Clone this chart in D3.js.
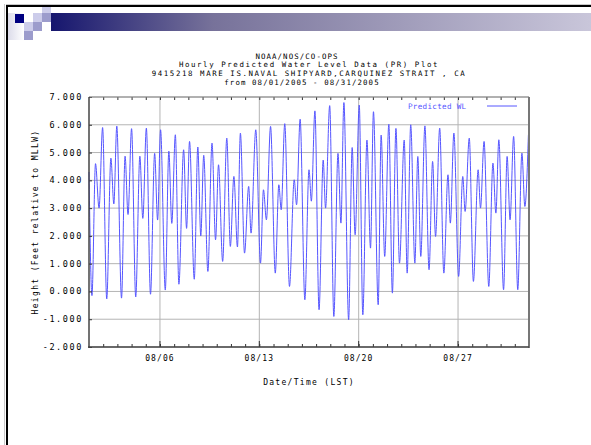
<!DOCTYPE html>
<html lang="en">
<head>
<meta charset="UTF-8">
<script src="https://d3js.org/d3.v7.min.js"></script>
<title>Hourly Predicted Water Level</title>
<style>
  body { margin: 0; background: #fff; }
  svg text { font-family: "DejaVu Sans Mono", monospace; fill: #000; }
</style>
</head>
<body>
<div id="chart"></div>
<script>
// ---- data ----
const titleLines = [
    "NOAA/NOS/CO-OPS",
    "Hourly Predicted Water Level Data (PR) Plot",
    "9415218 MARE IS.NAVAL SHIPYARD,CARQUINEZ STRAIT , CA",
    "from 08/01/2005 - 08/31/2005"
];
const yTicks = [-2, -1, 0, 1, 2, 3, 4, 5, 6, 7];
const xTickDays = [5, 12, 19, 26];             // days after 08/01 00:00
const xTickLabels = ["08/06", "08/13", "08/20", "08/27"];
const seriesName = "Predicted WL";

// hours after 08/01 00:00 LST (turning points of the hourly series)
const hours = [
    0, 5, 11, 17, 23, 30, 37, 42, 47, 55, 61, 66, 72, 79, 86, 91, 97, 104, 111, 116,
    121, 129, 135, 140, 146, 152, 160, 165, 170, 178, 184, 189, 194, 201, 208, 214, 219, 226, 233, 239,
    245, 251, 256, 263, 270, 274, 282, 290, 295, 300, 307, 315, 321, 325, 331, 339, 347, 351, 357, 365,
    372, 376, 382, 389, 396, 400, 407, 414, 421, 426, 431, 439, 445, 450, 457, 463, 470, 476, 481, 489,
    494, 500, 507, 513, 519, 525, 533, 538, 544, 551, 556, 561, 568, 575, 581, 586, 593, 600, 607, 611,
    617, 625, 632, 636, 643, 650, 658, 662, 668, 676, 683, 688, 693, 701, 707, 712, 718, 725, 732, 737,
    743
];
// feet relative to MLLW
const heights = [
    4.3, -0.15, 4.6, 3.0, 5.9, -0.27, 4.8, 3.15, 5.95, -0.24, 4.87, 2.77, 5.86, -0.2, 4.87, 2.63, 5.88, -0.1, 4.97, 2.57,
    5.82, 0.05, 5.05, 2.45, 5.64, 0.26, 5.1, 2.27, 5.4, 0.44, 5.2, 2.0, 4.9, 0.72, 5.34, 1.86, 4.56, 1.08, 5.52, 1.62,
    4.14, 1.6, 5.7, 1.38, 3.78, 2.1, 5.82, 1.02, 3.66, 2.58, 5.94, 0.66, 3.84, 2.94, 6.04, 0.18, 4.02, 3.12, 6.2, -0.3,
    4.38, 3.25, 6.5, -0.66, 4.73, 3.0, 6.69, -0.9, 4.97, 2.46, 6.8, -1.02, 5.18, 2.04, 6.71, -0.84, 5.45, 1.56, 6.47, -0.48,
    5.63, 1.26, 6.02, -0.06, 5.87, 1.02, 5.45, 0.66, 6.0, 1.02, 4.86, 1.26, 5.96, 0.78, 4.68, 1.98, 5.88, 0.66, 4.2, 2.46,
    5.7, 0.54, 4.14, 2.88, 5.52, 0.36, 4.38, 3.0, 5.4, 0.18, 4.62, 2.82, 5.46, 0.06, 4.86, 2.58, 5.58, 0.06, 4.98, 3.06,
    5.64
];

// ---- layout ----
const width = 591, height = 445;
const plot = { left: 89, right: 529, top: 97, bottom: 347 };
const blue = "#5656ff";

const svg = d3.select("#chart").append("svg")
    .attr("width", width)
    .attr("height", height);

// slide background + frame
svg.append("rect").attr("width", width).attr("height", height).attr("fill", "#fff");
svg.append("line").attr("x1", 6).attr("x2", width).attr("y1", 4.5).attr("y2", 4.5)
    .attr("stroke", "#c8c8c8").attr("stroke-width", 1);
svg.append("line").attr("x1", 4.5).attr("x2", 4.5).attr("y1", 4).attr("y2", height)
    .attr("stroke", "#c8c8c8").attr("stroke-width", 1);
svg.append("line").attr("x1", 6).attr("x2", width).attr("y1", 6).attr("y2", 6)
    .attr("stroke", "#000").attr("stroke-width", 2);
svg.append("line").attr("x1", 7).attr("x2", 7).attr("y1", 5).attr("y2", height)
    .attr("stroke", "#000").attr("stroke-width", 2);

// title bar gradient
const defs = svg.append("defs");
const grad = defs.append("linearGradient").attr("id", "bar");
grad.append("stop").attr("offset", "0%").attr("stop-color", "#16166e");
grad.append("stop").attr("offset", "30%").attr("stop-color", "#77729a");
grad.append("stop").attr("offset", "100%").attr("stop-color", "#c9c6da");
svg.append("rect").attr("x", 51).attr("y", 13).attr("width", width - 51).attr("height", 18)
    .attr("fill", "url(#bar)");

const fade = defs.append("linearGradient").attr("id", "fade");
fade.append("stop").attr("offset", "0%").attr("stop-color", "#dcdcea");
fade.append("stop").attr("offset", "100%").attr("stop-color", "#fff");
svg.append("rect").attr("x", 8).attr("y", 13).attr("width", 16).attr("height", 27).attr("fill", "url(#fade)");

// small squares
const squares = [
    [15, 14, "#000080"], [33, 13, "#ccccea"], [42, 7, "#ccccea"], [42, 13, "#9c9ccc"],
    [24, 22, "#ccccea"], [33, 22, "#9c9ccc"], [24, 31, "#9c9ccc"]
];
svg.selectAll("rect.sq").data(squares).enter().append("rect")
    .attr("class", "sq")
    .attr("x", d => d[0]).attr("y", d => d[1])
    .attr("width", 9).attr("height", 9)
    .attr("fill", d => d[2]);

// ---- scales ----
const x = d3.scaleLinear().domain([0, 31 * 24]).range([plot.left, plot.right]);
const y = d3.scaleLinear().domain([-2, 7]).range([plot.bottom, plot.top]);

// grid
svg.append("g").selectAll("line").data(yTicks).enter().append("line")
    .attr("x1", plot.left).attr("x2", plot.right)
    .attr("y1", d => y(d)).attr("y2", d => y(d))
    .attr("stroke", "#b4b4b4").attr("stroke-width", 1);
svg.append("g").selectAll("line").data(xTickDays).enter().append("line")
    .attr("x1", d => x(d * 24)).attr("x2", d => x(d * 24))
    .attr("y1", plot.top).attr("y2", plot.bottom)
    .attr("stroke", "#b4b4b4").attr("stroke-width", 1);

// series
const pts = hours.map((h, i) => [h, heights[i]]);
const line = d3.line().x(d => x(d[0])).y(d => y(d[1])).curve(d3.curveMonotoneX);
svg.append("path").datum(pts)
    .attr("d", line)
    .attr("fill", "none")
    .attr("stroke", blue)
    .attr("stroke-width", 1);

// axes (ticks inward)
const days = d3.range(1, 31);
const xBottom = d3.axisTop(x).tickValues(days.map(d => d * 24))
    .tickSize(3).tickFormat("");
const xTop = d3.axisBottom(x).tickValues(days.map(d => d * 24))
    .tickSize(3).tickFormat("");
svg.append("g").attr("transform", `translate(0,${plot.bottom})`).call(xBottom)
    .call(g => g.select(".domain").remove())
    .selectAll("line").attr("stroke", "#333");
svg.append("g").attr("transform", `translate(0,${plot.top})`).call(xTop)
    .call(g => g.select(".domain").remove())
    .selectAll("line").attr("stroke", "#333");
svg.append("g").selectAll("line").data(xTickDays).enter().append("line")
    .attr("x1", d => x(d * 24)).attr("x2", d => x(d * 24))
    .attr("y1", plot.bottom).attr("y2", plot.bottom - 6)
    .attr("stroke", "#333");

const yAxis = d3.axisRight(y).tickValues(yTicks).tickSize(3).tickFormat("");
svg.append("g").attr("transform", `translate(${plot.left},0)`).call(yAxis)
    .call(g => g.select(".domain").remove())
    .selectAll("line").attr("stroke", "#333");

// frame
svg.append("line").attr("x1", plot.left).attr("x2", plot.right).attr("y1", plot.top).attr("y2", plot.top)
    .attr("stroke", "#888").attr("stroke-width", 1);
svg.append("line").attr("x1", plot.right).attr("x2", plot.right).attr("y1", plot.top).attr("y2", plot.bottom + 1)
    .attr("stroke", "#777").attr("stroke-width", 2);
svg.append("line").attr("x1", plot.left).attr("x2", plot.left).attr("y1", plot.top).attr("y2", plot.bottom + 1)
    .attr("stroke", "#444").attr("stroke-width", 1.5);
svg.append("line").attr("x1", plot.left - 1).attr("x2", plot.right).attr("y1", plot.bottom).attr("y2", plot.bottom)
    .attr("stroke", "#444").attr("stroke-width", 1.5);

// tick labels
svg.append("g").selectAll("text").data(yTicks).enter().append("text")
    .attr("x", plot.left - 6).attr("y", d => y(d)).attr("dy", "0.35em")
    .attr("text-anchor", "end").attr("font-size", 8.5).attr("letter-spacing", 1.6)
    .text(d => d.toFixed(3));
svg.append("g").selectAll("text").data(xTickDays).enter().append("text")
    .attr("x", d => x(d * 24)).attr("y", 358).attr("dy", "0.35em")
    .attr("text-anchor", "middle").attr("font-size", 8).attr("letter-spacing", 1.1)
    .text((d, i) => xTickLabels[i]);

// titles
svg.append("g").selectAll("text").data(titleLines).enter().append("text")
    .attr("x", (d, i) => i === 0 ? 297 : i === 3 ? 302 : 309)
    .attr("y", (d, i) => 56 + i * 8.7).attr("dy", "0.35em")
    .attr("text-anchor", "middle").attr("font-size", 7.4)
    .attr("letter-spacing", (d, i) => i === 0 || i === 3 ? 1.1 : 1.6)
    .text(d => d);

svg.append("text").attr("x", 309).attr("y", 382).attr("dy", "0.35em")
    .attr("text-anchor", "middle").attr("font-size", 8).attr("letter-spacing", 1.3)
    .text("Date/Time (LST)");
svg.append("text")
    .attr("transform", "translate(35,222) rotate(-90)").attr("dy", "0.35em")
    .attr("text-anchor", "middle").attr("font-size", 8).attr("letter-spacing", 1.35)
    .text("Height (Feet relative to MLLW)");

// legend
svg.append("text").attr("x", 408).attr("y", 106).attr("dy", "0.35em")
    .attr("font-size", 7.6).attr("letter-spacing", 0.3).style("fill", blue)
    .text(seriesName);
svg.append("line").attr("x1", 487).attr("x2", 517).attr("y1", 106).attr("y2", 106)
    .attr("stroke", blue).attr("stroke-width", 1);
</script>
</body>
</html>
